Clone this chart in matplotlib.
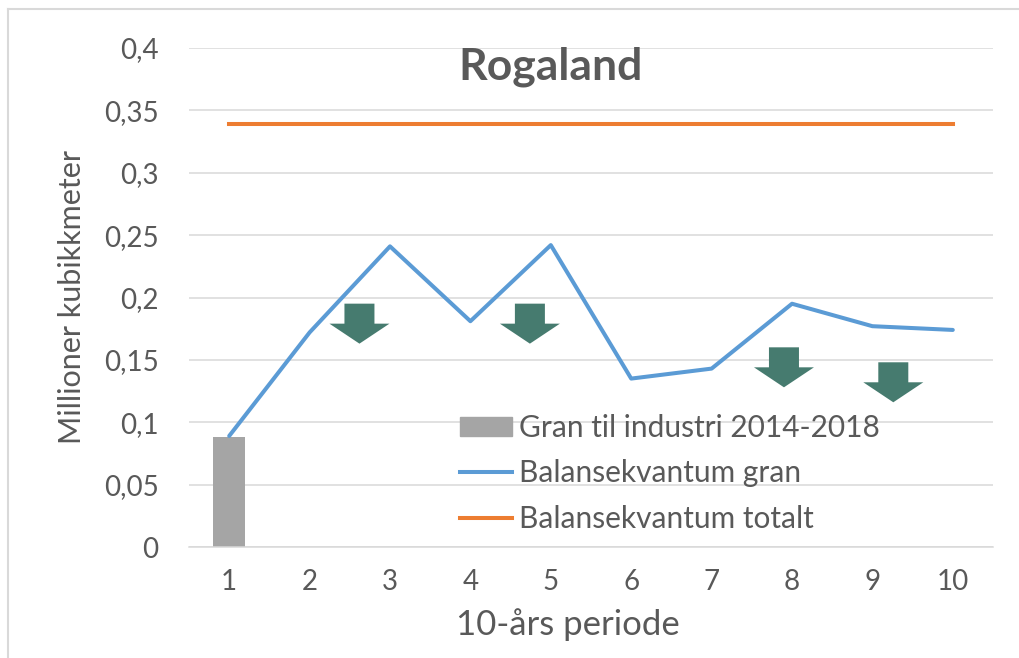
import matplotlib
matplotlib.use("Agg")
import matplotlib.pyplot as plt
from matplotlib.lines import Line2D
from matplotlib.patches import Polygon
from matplotlib.transforms import ScaledTranslation

# Data
periods = [1, 2, 3, 4, 5, 6, 7, 8, 9, 10]
period_labels = ["1", "2", "3", "4", "5", "6", "7", "8", "9", "10"]
gran_industri = [0.088]
balanse_gran = [0.089, 0.172, 0.241, 0.181, 0.242, 0.135, 0.143, 0.195, 0.177, 0.174]
balanse_totalt = [0.339, 0.339, 0.339, 0.339, 0.339, 0.339, 0.339, 0.339, 0.339, 0.339]
y_ticks = [0, 0.05, 0.1, 0.15, 0.2, 0.25, 0.3, 0.35, 0.4]

# Down arrows drawn on top of the chart (tip position in data coords)
arrow_x = [2.62, 4.74, 7.90, 9.26]
arrow_y = [0.163, 0.163, 0.128, 0.116]

TEXT = "#595959"
plt.rcParams["font.family"] = ["Lato", "DejaVu Sans"]

fig = plt.figure(figsize=(10.19, 6.58), dpi=100)
W, H = 1019, 658
ax = fig.add_axes([189 / W, 1 - 547 / H, 804 / W, 499 / H])

ax.bar(periods[:1], gran_industri, width=0.4, color="#a5a5a5", zorder=2,
       label="Gran til industri 2014-2018")
ax.plot(periods, balanse_gran, color="#5b9bd5", lw=2.9, zorder=3,
        solid_capstyle="round", label="Balansekvantum gran")
ax.plot(periods, balanse_totalt, color="#ed7d31", lw=2.9, zorder=3,
        label="Balansekvantum totalt")

# arrows, shape in pixels relative to the tip
shape = [(-15, 40), (15, 40), (15, 20), (30, 20), (0, 0), (-30, 20), (-15, 20)]
shape_in = [(px / 100, py / 100) for px, py in shape]
for x, y in zip(arrow_x, arrow_y):
    tr = fig.dpi_scale_trans + ScaledTranslation(x, y, ax.transData)
    ax.add_patch(Polygon(shape_in, closed=True, transform=tr,
                         facecolor="#467b6f", edgecolor="none", zorder=4))

ax.set_xlim(0.5, 10.5)
ax.set_ylim(0, 0.4)
ax.set_yticks(y_ticks)
ax.set_yticklabels([f"{v:g}".replace(".", ",") for v in y_ticks])
ax.set_xticks(periods)
ax.set_xticklabels(period_labels)
ax.grid(axis="y", color="#d9d9d9", lw=1.1, zorder=0)
ax.set_axisbelow(True)
for s in ["top", "right", "left"]:
    ax.spines[s].set_visible(False)
ax.spines["bottom"].set_color("#d9d9d9")
ax.spines["bottom"].set_linewidth(1.1)
ax.tick_params(axis="both", length=0, labelsize=20, colors=TEXT)
ax.tick_params(axis="y", pad=22)
ax.tick_params(axis="x", pad=16)

ax.set_ylabel("Millioner kubikkmeter", fontsize=22, color=TEXT)
ax.yaxis.set_label_coords(-0.128, 0.5)
ax.set_xlabel("10-års periode", fontsize=25, color=TEXT)
ax.xaxis.set_label_coords(0.471, -0.122)

ax.text(5.0, 0.385, "Rogaland", fontsize=32, fontweight="bold", color=TEXT,
        ha="center", va="center")

handles = [
    plt.Rectangle((0, 0), 1, 1, color="#a5a5a5"),
    Line2D([], [], color="#5b9bd5", lw=2.9),
    Line2D([], [], color="#ed7d31", lw=2.9),
]
labels = ["Gran til industri 2014-2018", "Balansekvantum gran", "Balansekvantum totalt"]
leg = ax.legend(handles, labels, loc="upper left", frameon=False,
                bbox_to_anchor=(460 / W, 1 - 414 / H), bbox_transform=fig.transFigure,
                borderaxespad=0, borderpad=0, fontsize=21.5, handlelength=1.75,
                handleheight=0.6, handletextpad=0.22, labelspacing=0.58)
for t in leg.get_texts():
    t.set_color(TEXT)

# chart area border (top and left visible)
fig.add_artist(Line2D([8 / W, 8 / W], [0, 1 - 9 / H], transform=fig.transFigure,
                      color="#d9d9d9", lw=1.5))
fig.add_artist(Line2D([8 / W, 1], [1 - 9 / H, 1 - 9 / H], transform=fig.transFigure,
                      color="#d9d9d9", lw=1.5))

fig.savefig("out.png", dpi=100)
